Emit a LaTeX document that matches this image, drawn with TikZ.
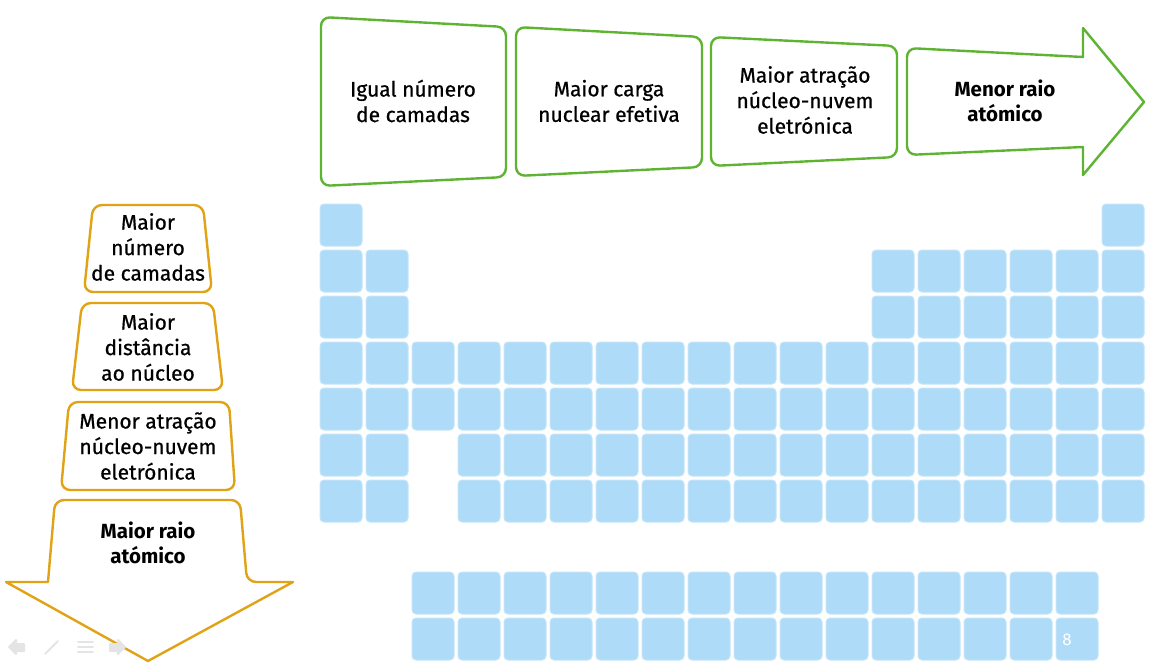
\documentclass[tikz,border=0pt]{standalone}
\usepackage{fontspec}
\setmainfont{Fira Sans}
\newfontfamily\medfont{Fira Sans}[FakeBold=0.7]
\definecolor{grn}{RGB}{94,180,50}
\definecolor{org}{RGB}{224,163,22}
\definecolor{cellblue}{RGB}{174,219,247}
\definecolor{celledge}{RGB}{196,228,249}
\definecolor{navgray}{RGB}{228,228,228}
\begin{document}
\begin{tikzpicture}[x=1pt,y=-1pt,
  cell/.style={fill=cellblue, draw=celledge, line width=1pt, rounded corners=4pt},
  gshape/.style={draw=grn, line width=2.4pt, fill=white, line join=round},
  oshape/.style={draw=org, line width=2.4pt, fill=white, line join=round},
  lbl/.style={align=center, font=\medfont\fontsize{21}{25.5}\selectfont, text=black, inner sep=0pt},
  blbl/.style={lbl, font=\fontsize{20.5}{25.5}\selectfont\bfseries},
  nav/.style={draw=navgray, line width=2pt, line cap=round, line join=round}
  ]
\useasboundingbox (0,0) rectangle (1151,666);
% periodic table cells
\foreach \c in {1,18} \draw[cell] ({320+46*(\c-1)},204) rectangle ++(42,42);
\foreach \r in {2,3} \foreach \c in {1,2,13,14,15,16,17,18}
  \draw[cell] ({320+46*(\c-1)},{204+46*(\r-1)}) rectangle ++(42,42);
\foreach \r in {4,5} \foreach \c in {1,...,18}
  \draw[cell] ({320+46*(\c-1)},{204+46*(\r-1)}) rectangle ++(42,42);
\foreach \r in {6,7} \foreach \c in {1,2,4,5,...,18}
  \draw[cell] ({320+46*(\c-1)},{204+46*(\r-1)}) rectangle ++(42,42);
\foreach \r in {0,1} \foreach \c in {3,...,17}
  \draw[cell] ({320+46*(\c-1)},{572+46*\r}) rectangle ++(42,42);
% top green shapes
\draw[gshape, rounded corners=9pt] (321,17) -- (506,27) -- (506,177) -- (321,186) -- cycle;
\draw[gshape, rounded corners=9pt] (516,27) -- (702,37) -- (702,167) -- (516,176) -- cycle;
\draw[gshape, rounded corners=9pt] (711,37) -- (897,46) -- (897,157) -- (711,166) -- cycle;
\draw[gshape] (907,100) [rounded corners=9pt] -- (907,48) [sharp corners] -- (1083,57) -- (1083,28) -- (1144,102) -- (1083,175) -- (1083,147) [rounded corners=9pt] -- (907,155) [sharp corners] -- cycle;
\node[lbl] (t1) at (413,101) {Igual número\\de camadas};
\node[lbl] (t2) at (609,101) {Maior carga\\nuclear efetiva};
\node[lbl] (t3) at (805,100) {Maior atração\\núcleo-nuvem\\eletrónica};
\node[blbl] (t4) at (1005,101) {Menor raio\\atómico};
% left orange shapes
\draw[oshape, rounded corners=9pt] (93,205) -- (203,205) -- (212,292) -- (84,292) -- cycle;
\draw[oshape, rounded corners=9pt] (82,303) -- (213,303) -- (223,390) -- (72,390) -- cycle;
\draw[oshape, rounded corners=9pt] (69,402) -- (229,402) -- (235,490) -- (61,490) -- cycle;
\draw[oshape] (148,500) [rounded corners=9pt] -- (240,500) -- (247,582) [sharp corners] -- (293,582) -- (148,661) -- (6,582) -- (48,582) [rounded corners=9pt] -- (55,500) [sharp corners] -- cycle;
\node[lbl] (l1) at (148,247) {Maior\\número\\de camadas};
\node[lbl] (l2) at (148,347) {Maior\\distância\\ao núcleo};
\node[lbl] (l3) at (148,446) {Menor atração\\núcleo-nuvem\\eletrónica};
\node[blbl] (l4) at (148,543) {Maior raio\\atómico};
% slide number
\node[text=white, font=\fontsize{17}{17}\selectfont, inner sep=0pt] (num) at (1067,640) {8};
% faint navigation icons
\draw[nav, fill=navgray] (9,647) -- (16,640) -- (16,644) -- (24,644) -- (24,651) -- (16,651) -- (16,654) -- cycle;
\draw[nav] (45,654) -- (58,641);
\draw[nav] (78,642) -- (93,642) (78,647) -- (93,647) (78,652) -- (93,652);
\draw[nav, fill=navgray] (125,647) -- (118,640) -- (118,644) -- (110,644) -- (110,651) -- (118,651) -- (118,654) -- cycle;
\end{tikzpicture}
\end{document}
